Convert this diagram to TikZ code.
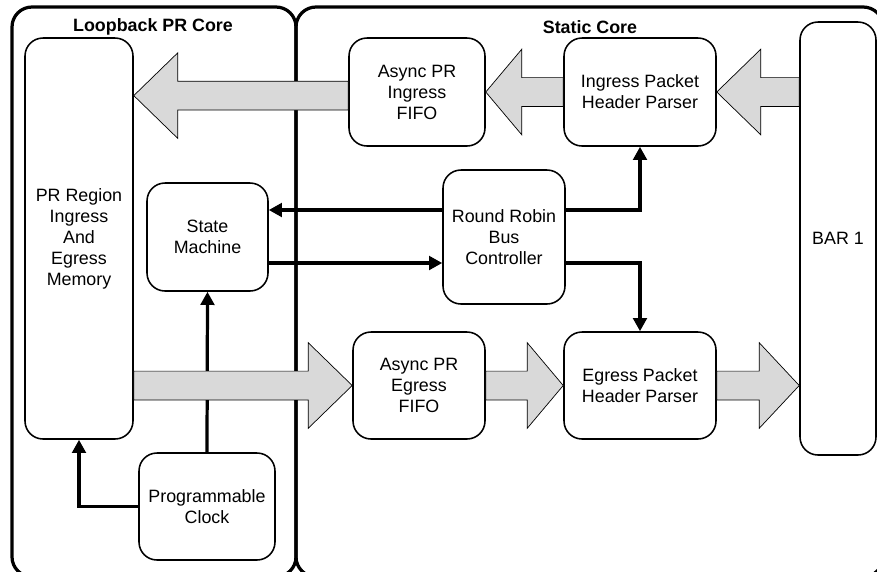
\documentclass[tikz,border=0pt]{standalone}
\usepackage{fontspec}
\setmainfont{Liberation Sans}
\usetikzlibrary{arrows.meta,calc}

\definecolor{flowgray}{RGB}{217,217,217}

% wide grey data path: #2 tail, #3 tip, #1 head length
\newcommand{\bigflow}[3][1.1cm]{%
	\coordinate (hd) at ($(#3)!#1!(#2)$);
	\draw[flow] ($(#2)+(0,0.36)$) -- ($(hd)+(0,0.36)$) -- ($(hd)+(0,1.07)$) -- (#3)
		-- ($(hd)+(0,-1.07)$) -- ($(hd)+(0,-0.36)$) -- ($(#2)+(0,-0.36)$) -- cycle;
}

\begin{document}
\begin{tikzpicture}[>={Triangle[length=0.33cm,width=0.34cm]},font=\fontsize{12.7}{14.9}\selectfont]
				\tikzstyle{core} = [line width=2.3pt,rounded corners=0.5cm]
				\tikzstyle{blk} = [draw,fill=white,line width=1.1pt,rounded corners=0.45cm,align=center]
				\tikzstyle{ctrl} = [->,line width=2.3pt]
				\tikzstyle{flow} = [draw=black,fill=flowgray,line width=0.5pt,line join=miter]
				\tikzstyle{title} = [font=\fontsize{12.7}{14.9}\selectfont\bfseries]
				
				\useasboundingbox (0,0) rectangle (21.925,-14.275);
				\clip (0,0) rectangle (21.925,-14.275);
				
				% the two cores
				\draw[core] (0.3,-0.175) rectangle (7.4,-14.42);
				\draw[core] (7.4,-0.175) rectangle (22.08,-14.42);
				\node[title] (lbcore) at (3.825,-0.68) {Loopback PR Core};
				\node[title] (stcore) at (14.75,-0.68) {Static Core};
				
				\node[blk,minimum width=2.7cm,minimum height=10.025cm] (mem) at (1.975,-5.9625) {PR Region\\Ingress\\And\\Egress\\Memory};
				\node[blk,minimum width=3.025cm,minimum height=2.7cm] (sm) at (5.1875,-5.925) {State\\Machine};
				\node[blk,minimum width=3.4cm,minimum height=2.675cm] (clk) at (5.175,-12.6625) {Programmable\\Clock};
				\node[blk,minimum width=3.4cm,minimum height=2.7cm] (fifoin) at (10.425,-2.3) {Async PR\\Ingress\\FIFO};
				\node[blk,minimum width=3.8cm,minimum height=2.7cm] (parsein) at (16,-2.3) {Ingress Packet\\Header Parser};
				\node[blk,minimum width=3.05cm,minimum height=3.35cm] (rr) at (12.6,-5.925) {Round Robin\\Bus\\Controller};
				\node[blk,minimum width=1.9cm,minimum height=10.825cm] (bar) at (20.95,-5.9625) {BAR 1};
				\node[blk,minimum width=3.3cm,minimum height=2.675cm] (fifoout) at (10.475,-9.6375) {Async PR\\Egress\\FIFO};
				\node[blk,minimum width=3.8cm,minimum height=2.675cm] (parseout) at (16,-9.6375) {Egress Packet\\Header Parser};
				
				% control lines
				\draw[ctrl] ([yshift=0.675cm]rr.west) -- ([yshift=0.675cm]sm.east);
				\draw[ctrl] ([yshift=-0.65cm]sm.east) -- ([yshift=-0.65cm]rr.west);
				\draw[ctrl] ([yshift=0.675cm]rr.east) -| (parsein.south);
				\draw[ctrl] ([yshift=-0.65cm]rr.east) -| (parseout.north);
				\draw[ctrl] (clk.north) -- (sm.south);
				\draw[ctrl] (clk.west) -| (mem.south);
				
				% ingress data path
				\coordinate[yshift=-0.09cm] (fifoinw) at (fifoin.west);
				\coordinate[yshift=-0.09cm] (memin) at (mem.east |- fifoin.west);
				\bigflow{fifoinw}{memin}
				\bigflow[0.9cm]{parsein.west}{fifoin.east}
				\coordinate (barin) at (bar.west |- parsein.east);
				\bigflow{barin}{parsein.east}
				
				% egress data path
				\coordinate (memout) at (mem.east |- fifoout.west);
				\bigflow{memout}{fifoout.west}
				\bigflow[0.9cm]{fifoout.east}{parseout.west}
				\coordinate (barout) at (bar.west |- parseout.east);
				\bigflow[1.0cm]{parseout.east}{barout}
			\end{tikzpicture}
\end{document}
